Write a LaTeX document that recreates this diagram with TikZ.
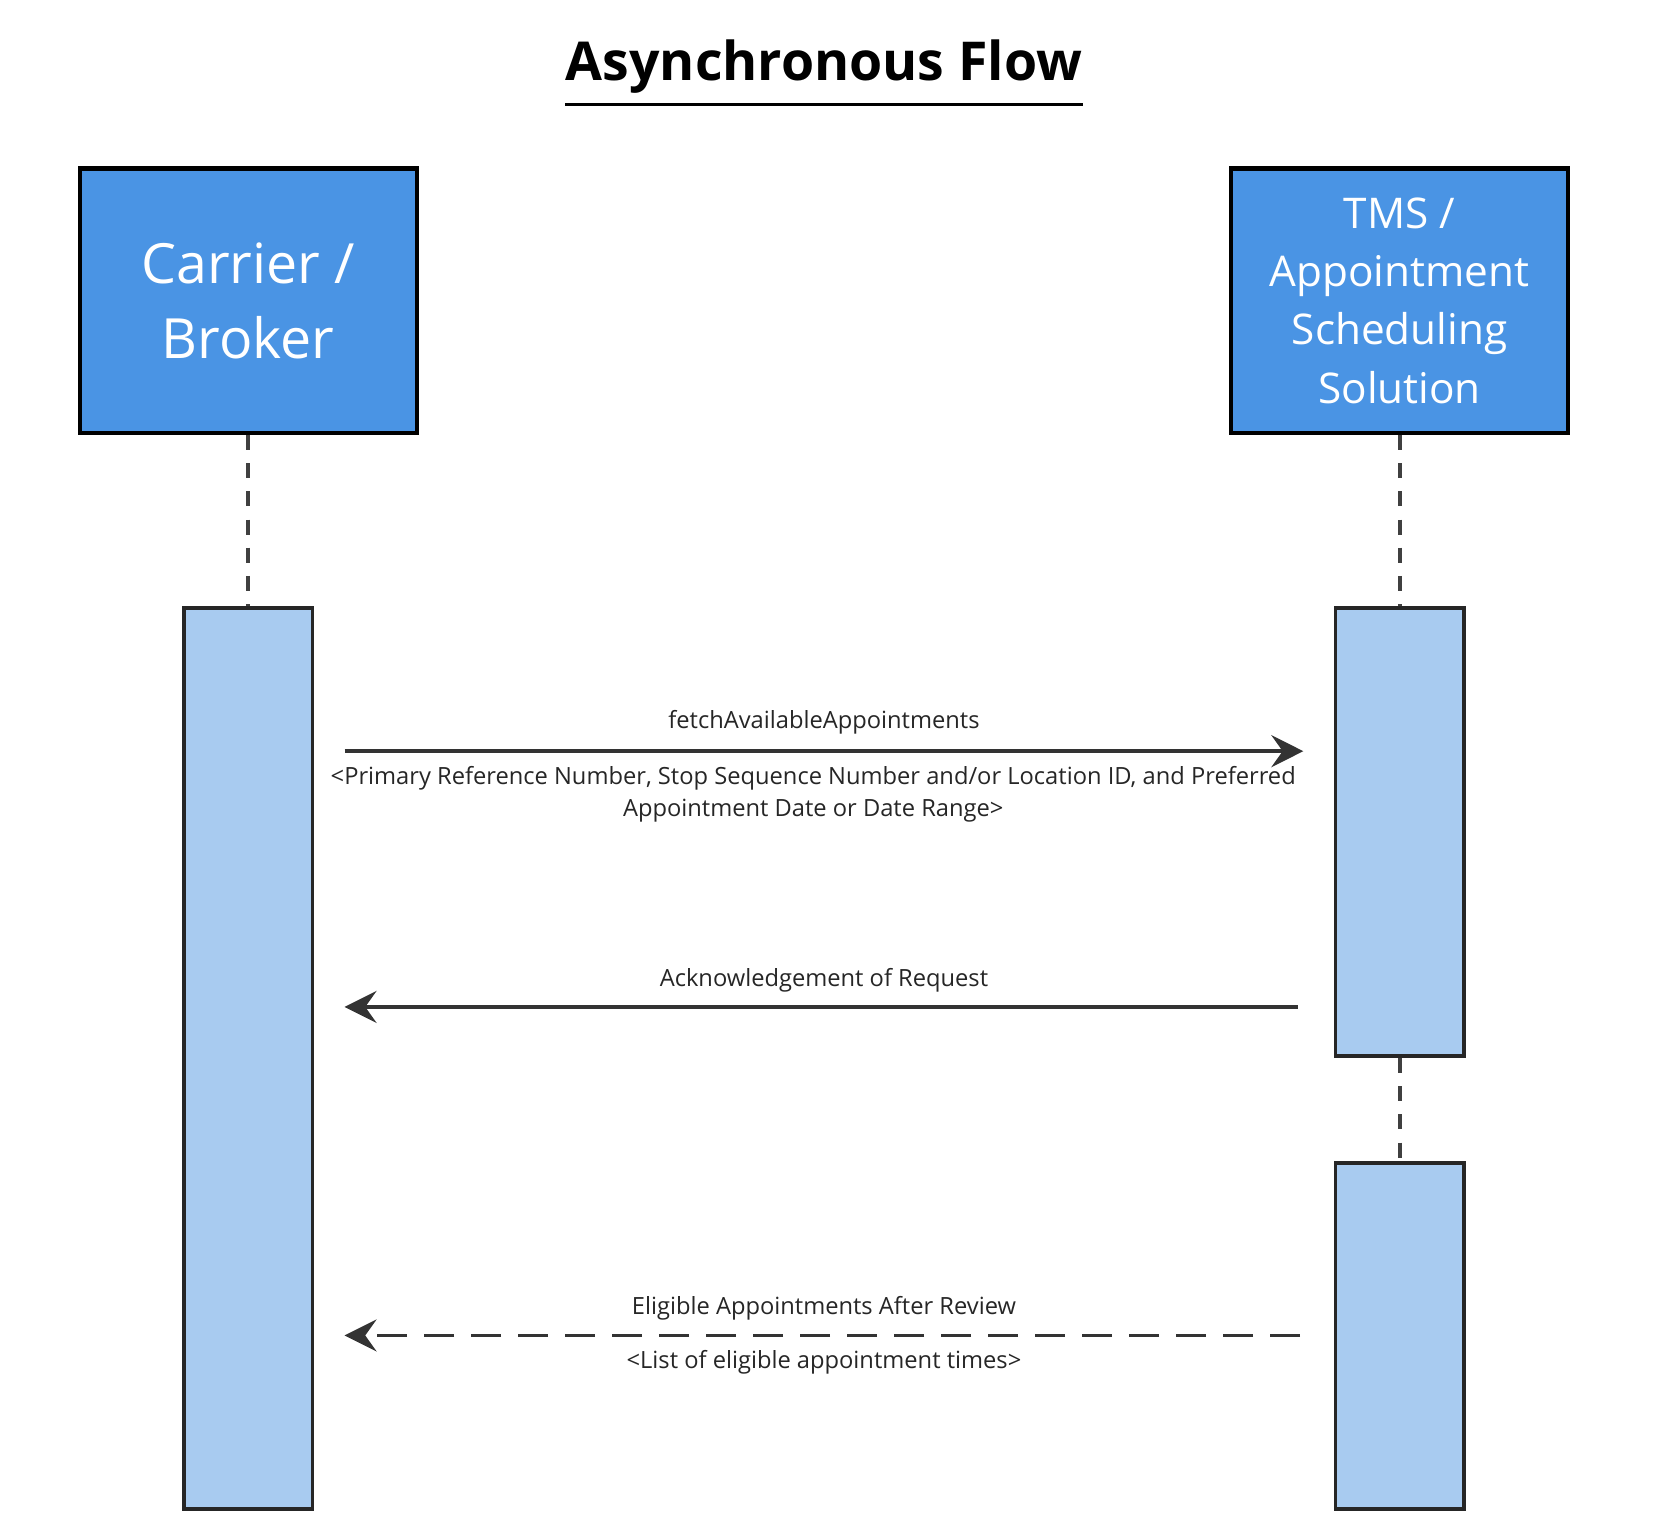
\documentclass[tikz,border=0pt]{standalone}
\usepackage{fontspec}
\setmainfont{Open Sans}
\usetikzlibrary{arrows.meta}
\usetikzlibrary{positioning}
\definecolor{actorblue}{HTML}{4A94E4}
\definecolor{actblue}{HTML}{A8CBF0}
\definecolor{msgline}{HTML}{333333}
\tikzset{
  actor/.style={draw=black,line width=2.2pt,fill=actorblue,text=white,align=center,
    font=\fontsize{29.5}{40}\selectfont,inner sep=0pt},
  activation/.style={draw=black!85,line width=2pt,fill=actblue},
  lifeline/.style={draw=black!75,line width=2pt,dash pattern=on 8pt off 7pt},
  message/.style={draw=msgline,line width=2pt,-{Stealth[length=17pt,width=17pt,inset=6pt]}},
  msgtext/.style={font=\fontsize{12.6}{17}\selectfont,align=center,text=black!85}
}
\begin{document}
\begin{tikzpicture}[x=0.02cm,y=-0.02cm]
  \useasboundingbox (0,0) rectangle (1570,1422);
  \node[font=\bfseries\fontsize{28.5}{34}\selectfont,inner sep=0pt] (title) at (770,62) {Asynchronous Flow};
  \draw[line width=1.6pt] ([yshift=-6pt]title.south west) -- ([yshift=-6pt]title.south east);
  % participants
  \node[actor,minimum width=315*0.02cm,minimum height=247*0.02cm] (carrier) at (232,281) {Carrier /\\Broker};
  \node[actor,minimum width=315*0.02cm,minimum height=247*0.02cm,font=\fontsize{22.5}{31}\selectfont] (tms) at (1308,281) {TMS /\\Appointment\\Scheduling\\Solution};
  % activation bars
  \node[activation,minimum width=120*0.02cm,minimum height=842*0.02cm,inner sep=0pt] (actL) at (232,989) {};
  \node[activation,minimum width=120*0.02cm,minimum height=419*0.02cm,inner sep=0pt] (actR1) at (1308,777.5) {};
  \node[activation,minimum width=120*0.02cm,minimum height=323*0.02cm,inner sep=0pt] (actR2) at (1308,1248.5) {};
  \path[lifeline] (carrier.south) -- (actL.north);
  \path[lifeline] (tms.south) -- (actR1.north);
  \path[lifeline] (actR1.south) -- (actR2.north);
  % messages
  \coordinate (m1a) at (322,702);
  \coordinate (m1b) at (1218,702);
  \coordinate (m2a) at (1213,941);
  \coordinate (m2b) at (322,941);
  \coordinate (m3a) at (1215,1248);
  \coordinate (m3b) at (322,1248);
  \draw[message] (m1a) -- (m1b);
  \draw[message] (m2a) -- (m2b);
  \draw[message,dash pattern=on 16pt off 9pt] (m3a) -- (m3b);
  \node[msgtext] (l1) at (770,675) {fetchAvailableAppointments};
  \node[msgtext] (l1b) at (760,742) {<Primary Reference Number, Stop Sequence Number and/or Location ID, and Preferred\\Appointment Date or Date Range>};
  \node[msgtext] (l2) at (770,916) {Acknowledgement of Request};
  \node[msgtext] (l3) at (770,1223) {Eligible Appointments After Review};
  \node[msgtext] (l3b) at (770,1273) {<List of eligible appointment times>};
\end{tikzpicture}
\end{document}
